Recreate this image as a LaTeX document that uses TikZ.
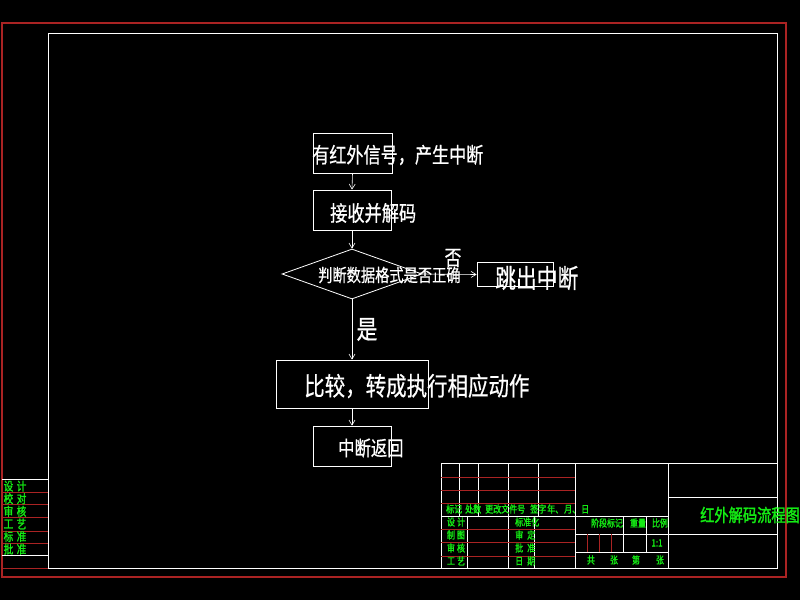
\documentclass[tikz,border=0pt]{standalone}
\usepackage{fontspec}
\usetikzlibrary{arrows.meta,shapes.geometric}
\newfontfamily\cjk[FakeStretch=0.8,FakeBold=0.6]{Noto Sans CJK SC}
\newfontfamily\cjkb[FakeStretch=0.8,FakeBold=1.6]{Noto Sans CJK SC}
\definecolor{cadred}{RGB}{170,35,35}
\definecolor{cadgreen}{RGB}{20,235,20}
\newcommand\fsz[1]{\cjk\fontsize{#1}{#1}\selectfont}
\newcommand\gsz[1]{\cjkb\fontsize{#1}{#1}\selectfont}
\tikzset{
  flowbox/.style={draw=white, line width=0.8pt, inner sep=0pt},
  flowtext/.style={text=white, inner sep=0pt, anchor=west},
  flowarrow/.style={draw=white, line width=0.6pt, -{Straight Barb[length=5pt,width=6pt]}},
  tbtext/.style={text=cadgreen, inner sep=0pt, font=\gsz{10}},
  tbline/.style={draw=white, line width=0.8pt},
  tbred/.style={draw=cadred, line width=0.8pt}
}
\begin{document}
\begin{tikzpicture}[x=1pt, y=-1pt]
	\fill[black] (0,0) rectangle (800,600);
	\useasboundingbox (0,0) rectangle (800,600);
	% frames
	\draw[cadred, line width=1.4pt] (2,23) rectangle (786,577);
	\draw[tbline] (48,33) rectangle (777,568);
	% flow chart
	\node[flowbox, minimum width=79pt, minimum height=40pt] (start) at (352.5,153) {};
	\node[flowbox, minimum width=78pt, minimum height=40pt] (decode) at (352,210) {};
	\node[flowbox, diamond, minimum width=140pt, minimum height=50pt] (check) at (352,274) {};
	\node[flowbox, minimum width=76pt, minimum height=24pt] (quit) at (515,274.5) {};
	\node[flowbox, minimum width=152pt, minimum height=48pt] (act) at (352,384) {};
	\node[flowbox, minimum width=78pt, minimum height=40pt] (ret) at (352,446) {};
	\node[flowtext, font=\fsz{21.4}] (tstart) at (312,155) {有红外信号，产生中断};
	\node[flowtext, font=\fsz{21.5}] (tdecode) at (330,213) {接收并解码};
	\node[flowtext, font=\fsz{17.8}] (tcheck) at (318,275) {判断数据格式是否正确};
	\node[flowtext, font=\fsz{26}] (tquit) at (495,278) {跳出中断};
	\node[flowtext, font=\fsz{25.6}] (tact) at (304,386) {比较，转成执行相应动作};
	\node[flowtext, font=\fsz{20.4}] (tret) at (338,448) {中断返回};
	\draw[flowarrow] (start.south) -- (decode.north);
	\draw[flowarrow] (decode.south) -- (check.north);
	\draw[flowarrow] (check.east) -- (quit.west);
	\draw[flowarrow] (check.south) -- node[text=white, inner sep=0pt, font=\fsz{26}, xshift=15pt] (yes) {是} (act.north);
	\draw[flowarrow] (act.south) -- (ret.north);
	\node[text=white, inner sep=0pt, font=\fsz{21}] (no) at (453,258) {否};
	% left block
	\draw[tbline] (2,479) -- (48,479);
	\draw[tbline] (2,555) -- (48,555);
	\foreach \y in {492,504,517,531,543,568}
	  \draw[tbred] (2,\y) -- (48,\y);
	\foreach \a/\b [count=\i] in {设/计,校/对,审/核,工/艺,标/准,批/准}
	{
	  \node[tbtext, font=\gsz{12}] at (8.5,473.5+12.6*\i) {\a};
	  \node[tbtext, font=\gsz{12}] at (21.5,473.5+12.6*\i) {\b};
	}
	% title block
	\draw[tbline] (441,463) -- (777,463);
	\draw[tbline] (441,463) -- (441,568);
	\draw[tbline] (441,516) -- (575,516);
	\foreach \x in {459,478,538}
	  \draw[tbline] (\x,463) -- (\x,516);
	\foreach \x in {467,534}
	  \draw[tbline] (\x,516) -- (\x,568);
	\draw[tbline] (508,463) -- (508,568);
	\draw[tbline] (575,463) -- (575,568);
	\draw[tbline] (668,463) -- (668,568);
	\foreach \y in {477,490,503,529,542,556}
	  \draw[tbred] (441,\y) -- (575,\y);
	\draw[tbline] (575,516) -- (668,516);
	\draw[tbline] (575,534) -- (668,534);
	\draw[tbline] (575,552) -- (668,552);
	\draw[tbline] (623,516) -- (623,552);
	\draw[tbline] (646,516) -- (646,552);
	\foreach \x in {587,599,611}
	  \draw[tbred] (\x,534) -- (\x,552);
	\draw[tbline] (668,497) -- (777,497);
	\draw[tbline] (668,534) -- (777,534);
	% title block texts
	\node[tbtext, anchor=west] at (446,509) {标记};
	\node[tbtext, anchor=west] at (465,509) {处数};
	\node[tbtext, anchor=west] at (485,509) {更改文件号};
	\node[tbtext, anchor=west] at (530,509) {签字};
	\node[tbtext, anchor=west] at (547,509) {年、\hspace{1pt}月、\hspace{1pt}日};
	\foreach \a/\b [count=\i] in {设/计,制/图,审/核,工/艺}
	{
	  \node[tbtext] at (451,509+13*\i) {\a};
	  \node[tbtext] at (461,509+13*\i) {\b};
	}
	\foreach \t [count=\i] in {标准化,审\hspace{4pt}定,批\hspace{4pt}准,日\hspace{4pt}期}
	  \node[tbtext, anchor=west] at (515,509+13*\i) {\t};
	\node[tbtext] at (607,523) {阶段标记};
	\node[tbtext] at (638,523) {重量};
	\node[tbtext] at (660,523) {比例};
	\node[tbtext] at (657,543) {1:1};
	\foreach \t/\x in {共/591,张/614,第/636,张/660}
	  \node[tbtext] at (\x,560) {\t};
	\node[tbtext, anchor=west, font=\gsz{17.8}] (title) at (700,515) {红外解码流程图};
\end{tikzpicture}
\end{document}
